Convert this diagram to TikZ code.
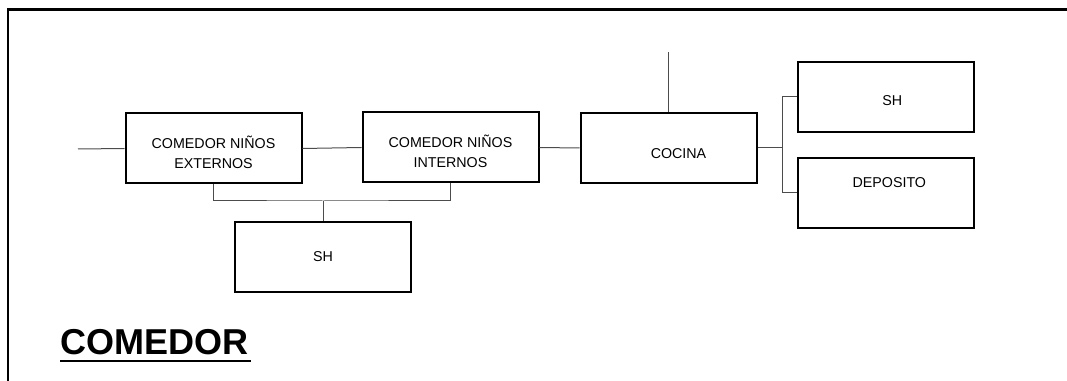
\documentclass[tikz,border=0pt]{standalone}
\usepackage{fontspec}
\setmainfont{Liberation Sans}
\usetikzlibrary{positioning}

\tikzset{
  room/.style={draw, line width=1.5pt, minimum width=132pt, minimum height=52.5pt,
    inner sep=0pt, align=center, font=\fontsize{10.7}{15}\selectfont},
  link/.style={draw=black!70, line width=0.75pt},
  frame/.style={line width=1.6pt}
}

\begin{document}
\begin{tikzpicture}[x=0.75pt,y=-0.75pt]
\useasboundingbox (0,0) rectangle (1067,381);
\draw [frame] (1067,9.5) -- (8,9.5) -- (8,381);
% rooms
\node [room, text height=29.5pt] (ext) at (213.5,148.5) {COMEDOR NIÑOS\\EXTERNOS};
\node [room, text height=29.5pt] (int) at (450.5,147.5) {COMEDOR NIÑOS\\INTERNOS};
\node [room, text height=15.3pt] (coc) at (668.5,148) {\hspace*{15pt}COCINA};
\node [room, text height=12.3pt] (sha) at (885.5,97) {\hspace*{10pt}SH};
\node [room, text depth=15pt] (dep) at (886,193) {\hspace*{5pt}DEPOSITO};
\node [room] (shb) at (323,257) {SH};
% links
\coordinate (in) at (78,149);
\coordinate (up) at (668.5,52);
\coordinate (bus) at (323,201);
\draw [link] (in) -- (ext.west);
\draw [link] (ext.east) -- (int.west);
\draw [link] (int.east) -- (coc.west);
\draw [link] (up) -- (coc.north);
\draw [link] (coc.east) -- ++(25,0) coordinate (fork);
\draw [link] (sha.west) -| (fork) |- (dep.west);
\draw [link] (ext.south) |- (bus) -| (int.south);
\draw [link] (bus) -- (shb.north);
% title
\node [anchor=base west, inner sep=0pt, font=\fontsize{27}{30}\bfseries\selectfont]
  (title) at (60,354) {COMEDOR};
\draw [line width=1.5pt] ([yshift=-5.3pt]title.base west) -- ([yshift=-5.3pt,xshift=1.5pt]title.base east);
\end{tikzpicture}
\end{document}
